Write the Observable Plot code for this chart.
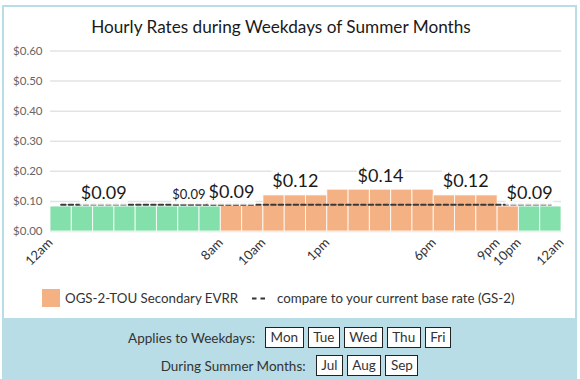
<!DOCTYPE html>
<html>
<head>
<meta charset="utf-8">
<script src="https://cdn.jsdelivr.net/npm/d3@7"></script>
<script src="https://cdn.jsdelivr.net/npm/@observablehq/plot@0.6"></script>
<style>
  html, body { margin: 0; padding: 0; background: #fff; }
  body { width: 580px; height: 379px; position: relative; overflow: hidden; font-family: Lato, "Open Sans", sans-serif; color: #222; }
  #frame { position: absolute; left: 2px; top: 5px; width: 575px; height: 400px; border: 2px solid #b9dde6; box-sizing: border-box; }
  #title { position: absolute; left: 0; top: 16px; width: 562px; text-align: center; font-size: 17.2px; color: #1a1a1a; white-space: nowrap; }
  #chart { position: absolute; left: 0; top: 40px; }
  #legend { position: absolute; left: 0; top: 288px; width: 580px; height: 20px; font-size: 13.3px; color: #333; }
  #legend .sw { position: absolute; left: 42px; top: 1px; width: 18px; height: 18px; background: #f4b183; }
  #legend .t1 { position: absolute; left: 65px; top: 0; line-height: 20px; white-space: nowrap; }
  #legend .dash { position: absolute; left: 252px; top: 9px; }
  #legend .t2 { position: absolute; left: 277px; top: 0; line-height: 20px; white-space: nowrap; }
  #panel { position: absolute; left: 2px; top: 318px; width: 575px; height: 70px; background: #b8dde6; }
  .row { position: absolute; left: 0; width: 575px; display: flex; justify-content: center; align-items: center; font-size: 13.5px; color: #333; }
  .row .lab { margin-right: 6px; }
  .row .box { border: 1px solid #222; background: #fff; height: 19px; line-height: 19px; padding: 0 4.5px; margin-left: 4px; }
  #row1 { top: 9px; }
  #row2 { top: 37px; }
</style>
</head>
<body>
<div id="frame"></div>
<div id="title"></div>
<div id="chart"></div>
<div id="legend"></div>
<div id="panel"><div class="row" id="row1"></div><div class="row" id="row2"></div></div>
<script>
// ---- data ----
const titleText = "Hourly Rates during Weekdays of Summer Months";
const hours = [0,1,2,3,4,5,6,7,8,9,10,11,12,13,14,15,16,17,18,19,20,21,22,23];
const rates = [0.083,0.083,0.083,0.083,0.083,0.083,0.083,0.083,0.085,0.085,0.12,0.12,0.12,0.139,0.139,0.139,0.139,0.139,0.12,0.12,0.12,0.083,0.083,0.083];
const periods = ["off","off","off","off","off","off","off","off","on","on","on","on","on","on","on","on","on","on","on","on","on","on","off","off"];
const baseRate = 0.089;
const labelHours = [2.5, 6.5, 8.5, 11.5, 15.5, 19.5, 22.5];
const labelTexts = ["$0.09", "$0.09", "$0.09", "$0.12", "$0.14", "$0.12", "$0.09"];
const labelSizes = [18, 13, 18, 18, 18, 18, 18];
const xTickHours = [0, 8, 10, 13, 18, 21, 22, 24];
const xTickLabels = ["12am", "8am", "10am", "1pm", "6pm", "9pm", "10pm", "12am"];
const yTicks = [0, 0.1, 0.2, 0.3, 0.4, 0.5, 0.6];
const legendRate = "OGS-2-TOU Secondary EVRR";
const legendBase = "compare to your current base rate (GS-2)";
const weekdayLabel = "Applies to Weekdays:";
const weekdays = ["Mon", "Tue", "Wed", "Thu", "Fri"];
const monthLabel = "During Summer Months:";
const months = ["Jul", "Aug", "Sep"];

const colorOff = "#84e0ab";
const colorOn = "#f4b183";

// ---- chart ----
const bars = hours.map((h, i) => ({h, rate: rates[i], period: periods[i]}));
const labels = labelHours.map((x, i) => ({x, y: rates[Math.floor(x)], text: labelTexts[i], size: labelSizes[i]}));

document.getElementById("title").textContent = titleText;

const plot = Plot.plot({
  width: 580,
  height: 240,
  marginLeft: 50,
  marginRight: 19,
  marginTop: 10.5,
  marginBottom: 49,
  style: {fontFamily: "Lato, 'Open Sans', sans-serif", background: "transparent", overflow: "visible"},
  x: {domain: [0, 24]},
  y: {domain: [0, 0.6]},
  color: {domain: ["off", "on"], range: [colorOff, colorOn]},
  marks: [
    Plot.gridY(yTicks, {stroke: "#e3e3e3", strokeOpacity: 1, strokeWidth: 1.5}),
    Plot.rectY(bars, {x1: "h", x2: d => d.h + 1, y: "rate", fill: "period", stroke: "white", strokeWidth: 1, strokeOpacity: 0.8}),
    Plot.lineY(hours, {x: d => d + 0.5, y: () => baseRate, stroke: "#3a3a3a", strokeWidth: 2, strokeDasharray: "4.5,3"}),
    Plot.text(labels, {x: "x", y: "y", text: "text", fontSize: "size", dy: -8, lineAnchor: "bottom", fill: "#1a1a1a", className: "vlab"}),
    Plot.axisY(yTicks, {tickFormat: d => "$" + d.toFixed(2), tickSize: 0, tickPadding: 8, fontSize: 11.5, color: "#666"}),
    Plot.axisX(xTickHours, {tickFormat: d => xTickLabels[xTickHours.indexOf(d)], tickRotate: -45, tickSize: 0, tickPadding: 9, fontSize: 13, color: "#333"})
  ]
});
document.getElementById("chart").appendChild(plot);

// white translucent boxes behind value labels
plot.querySelectorAll("g.vlab text").forEach(t => {
  const b = t.getBBox();
  const r = document.createElementNS("http://www.w3.org/2000/svg", "rect");
  const tr = t.getAttribute("transform");
  if (tr) r.setAttribute("transform", tr);
  r.setAttribute("x", b.x - 1);
  r.setAttribute("y", b.y);
  r.setAttribute("width", b.width + 2);
  r.setAttribute("height", b.height + 3);
  r.setAttribute("fill", "white");
  r.setAttribute("fill-opacity", 0.75);
  t.parentNode.insertBefore(r, t);
});

// ---- legend ----
const lg = document.getElementById("legend");
lg.innerHTML = `<div class="sw"></div><div class="t1"></div>
<svg class="dash" width="16" height="3"><line x1="0" y1="1.5" x2="16" y2="1.5" stroke="#333" stroke-width="2" stroke-dasharray="4.5,4"/></svg>
<div class="t2"></div>`;
lg.querySelector(".t1").textContent = legendRate;
lg.querySelector(".t2").textContent = legendBase;

// ---- bottom panel ----
function fillRow(id, label, items) {
  const row = document.getElementById(id);
  const l = document.createElement("span");
  l.className = "lab"; l.textContent = label; row.appendChild(l);
  items.forEach(s => { const b = document.createElement("span"); b.className = "box"; b.textContent = s; row.appendChild(b); });
}
fillRow("row1", weekdayLabel, weekdays);
fillRow("row2", monthLabel, months);
</script>
</body>
</html>
